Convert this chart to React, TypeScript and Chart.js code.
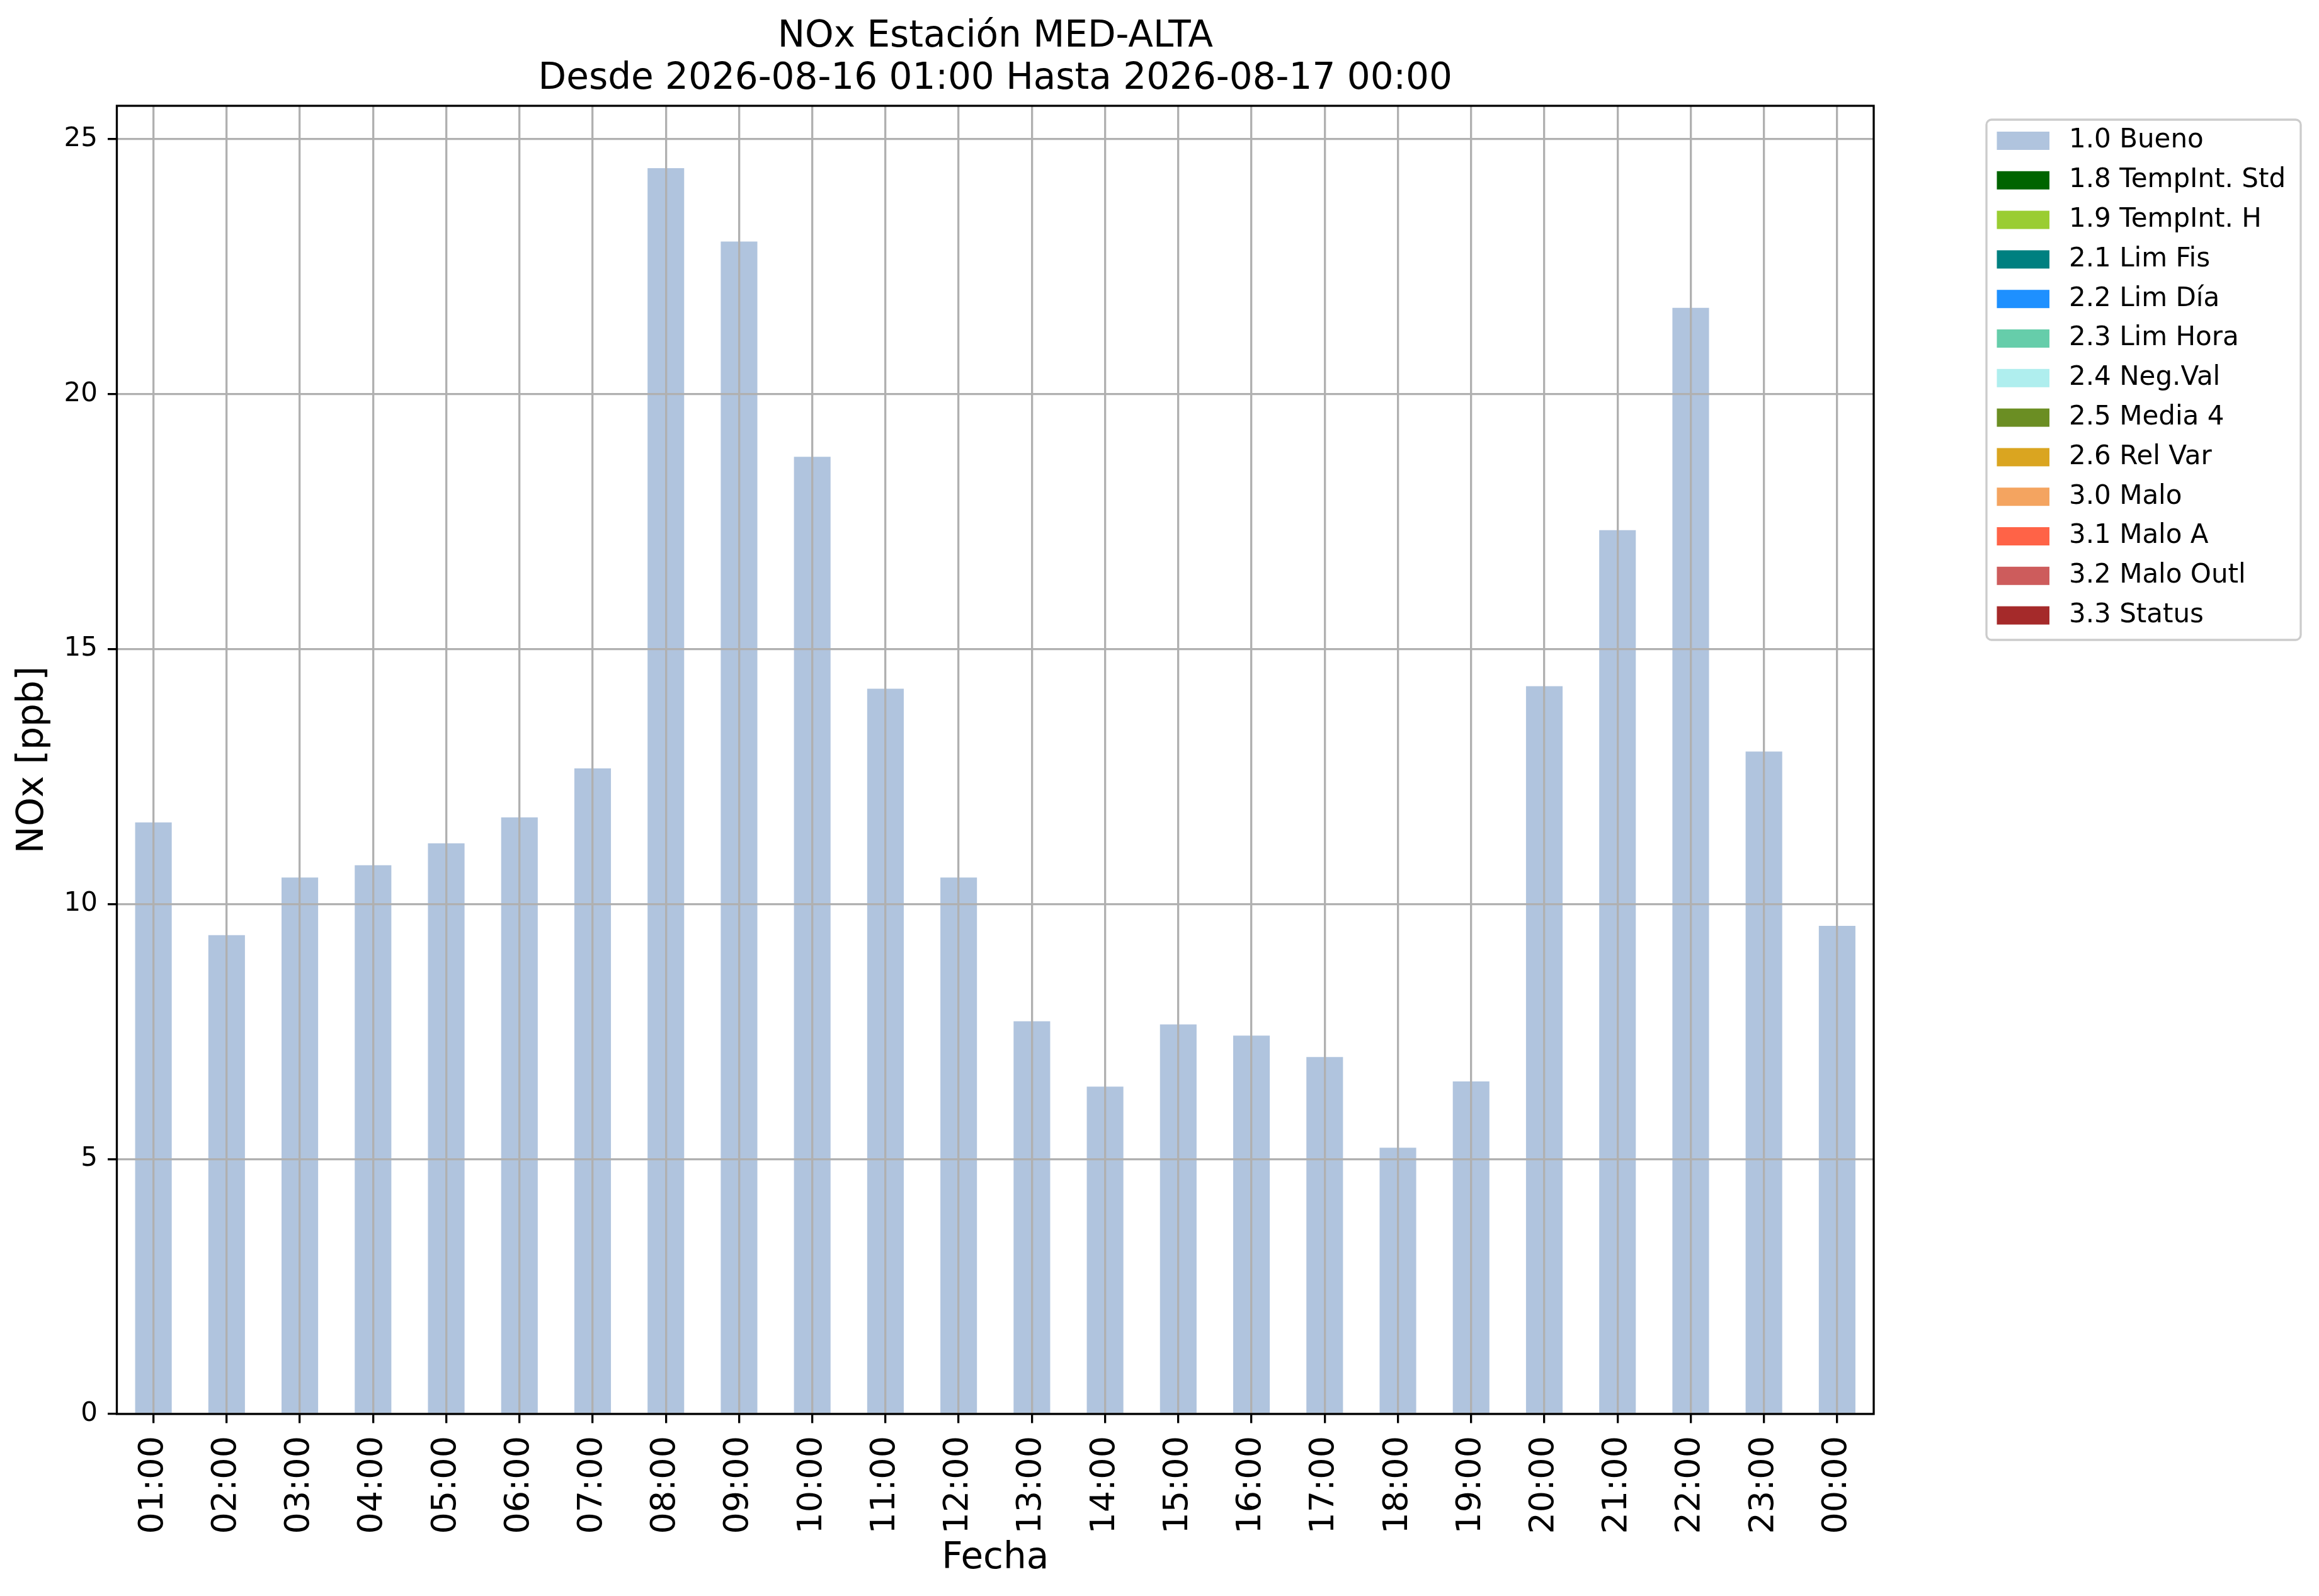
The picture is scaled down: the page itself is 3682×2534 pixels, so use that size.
import { useEffect, useRef } from "react"
import { Chart, registerables } from "chart.js"

Chart.register(...registerables)

// Hourly NOx values (ppb), all flagged "1.0 Bueno"
const hours = [
  "01:00", "02:00", "03:00", "04:00", "05:00", "06:00", "07:00", "08:00",
  "09:00", "10:00", "11:00", "12:00", "13:00", "14:00", "15:00", "16:00",
  "17:00", "18:00", "19:00", "20:00", "21:00", "22:00", "23:00", "00:00",
]
const noxBueno = [
  11.6, 9.39, 10.52, 10.76, 11.19, 11.7, 12.66, 24.43,
  22.99, 18.77, 14.22, 10.52, 7.7, 6.42, 7.64, 7.42,
  7.0, 5.22, 6.52, 14.27, 17.33, 21.69, 12.99, 9.57,
]

// Validation status categories shown in the legend
const statusLabels = [
  "1.0 Bueno", "1.8 TempInt. Std", "1.9 TempInt. H", "2.1 Lim Fis",
  "2.2 Lim Día", "2.3 Lim Hora", "2.4 Neg.Val", "2.5 Media 4",
  "2.6 Rel Var", "3.0 Malo", "3.1 Malo A", "3.2 Malo Outl", "3.3 Status",
]
const statusColors = [
  "#b0c4de", "#006400", "#9acd32", "#008080",
  "#1e90ff", "#66cdaa", "#afeeee", "#6b8e23",
  "#daa520", "#f4a460", "#ff6347", "#cd5c5c", "#a52a2a",
]

const titleLines = [
  "NOx Estación MED-ALTA",
  "Desde 2026-08-16 01:00 Hasta 2026-08-17 00:00",
]

const W = 3682
const H = 2534
const GRID = "#b0b0b0"
const LW = 3.3

// black box around the axes, like matplotlib spines
const framePlugin = {
  id: "frame",
  afterDraw(chart: any) {
    const { ctx, chartArea: a } = chart
    ctx.save()
    ctx.strokeStyle = "#000"
    ctx.lineWidth = LW
    ctx.strokeRect(a.left, a.top, a.right - a.left, a.bottom - a.top)
    ctx.restore()
  },
}

// matplotlib-style legend outside the axes
const legendPlugin = {
  id: "mplLegend",
  afterDraw(chart: any) {
    const { ctx, chartArea: a } = chart
    const x0 = a.right + 179
    const y0 = a.top + 22
    const w = 499
    const h = 826
    ctx.save()
    ctx.fillStyle = "rgba(255,255,255,0.8)"
    ctx.strokeStyle = "#cccccc"
    ctx.lineWidth = LW
    ctx.beginPath()
    ctx.roundRect(x0, y0, w, h, 8)
    ctx.fill()
    ctx.stroke()
    ctx.font = "42px 'DejaVu Sans'"
    ctx.textBaseline = "middle"
    ctx.textAlign = "left"
    chart.data.datasets.forEach((ds: any, i: number) => {
      const y = a.top + 41 + i * 62.8
      ctx.fillStyle = ds.backgroundColor
      ctx.fillRect(a.right + 195.5, y, 83.5, 29)
      ctx.fillStyle = "#000"
      ctx.fillText(ds.label, a.right + 310, y + 14.5)
    })
    ctx.restore()
  },
}

export default function App() {
  const canvasRef = useRef<HTMLCanvasElement>(null)
  const chartInstance = useRef<Chart | null>(null)

  useEffect(() => {
    if (!canvasRef.current) return
    if (chartInstance.current) chartInstance.current.destroy()

    Chart.defaults.font.family = "'DejaVu Sans', sans-serif"
    Chart.defaults.color = "#000"

    const datasets = statusLabels.map((label, i) => ({
      label,
      data: i === 0 ? noxBueno : [],
      backgroundColor: statusColors[i],
      borderWidth: 0,
      barPercentage: 0.5,
      categoryPercentage: 1.0,
    }))

    const yMax = Math.max(...noxBueno) * 1.05

    const gridOpts = {
      color: GRID,
      lineWidth: LW,
      z: 1,
      drawTicks: true,
      tickLength: 14.5,
      tickColor: "#000",
      tickWidth: LW,
    }

    chartInstance.current = new Chart(canvasRef.current, {
      type: "bar",
      data: { labels: hours, datasets },
      options: {
        responsive: true,
        maintainAspectRatio: false,
        animation: false,
        layout: { padding: { left: 0, top: 0, right: 707, bottom: 0 } },
        scales: {
          x: {
            stacked: true,
            offset: true,
            grid: { ...gridOpts, offset: false },
            border: { display: false },
            ticks: {
              autoSkip: false,
              minRotation: 90,
              maxRotation: 90,
              padding: 20.5,
              color: "#000",
              font: { size: 54 },
            },
            title: {
              display: true,
              text: "Fecha",
              color: "#000",
              font: { size: 58 },
              padding: { top: 0, bottom: 24 },
            },
            afterFit: (scale: any) => {
              scale.height = 289
            },
          },
          y: {
            stacked: true,
            min: 0,
            max: yMax,
            grid: gridOpts,
            border: { display: false },
            ticks: {
              stepSize: 5,
              includeBounds: false,
              padding: 16,
              color: "#000",
              font: { size: 42 },
            },
            title: {
              display: true,
              text: "NOx [ppb]",
              color: "#000",
              font: { size: 58 },
              padding: { top: 18, bottom: 0 },
            },
            afterFit: (scale: any) => {
              scale.width = 185.5
            },
          },
        },
        plugins: {
          legend: { display: false },
          tooltip: { enabled: false },
          title: {
            display: true,
            text: titleLines,
            fullSize: false,
            color: "#000",
            font: { size: 58, weight: "normal", lineHeight: 67 / 58 },
            padding: { top: 25.5, bottom: 8.5 },
          },
        },
      },
      plugins: [framePlugin, legendPlugin],
    })

    return () => {
      if (chartInstance.current) {
        chartInstance.current.destroy()
        chartInstance.current = null
      }
    }
  }, [])

  return (
    <div
      style={{
        position: "absolute",
        left: 0,
        top: 0,
        width: W,
        height: H,
        background: "#fff",
      }}
    >
      <canvas ref={canvasRef} />
    </div>
  )
}
